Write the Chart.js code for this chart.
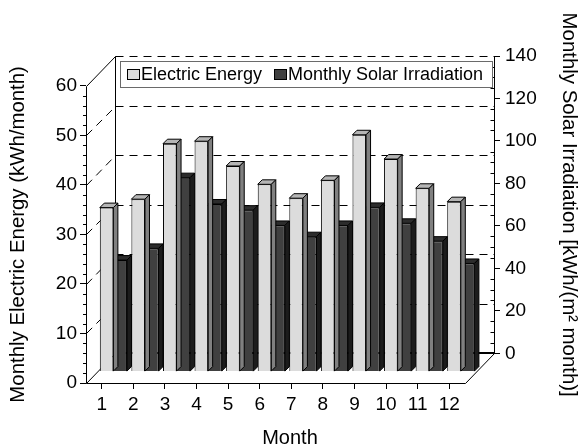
<!DOCTYPE html>
<html>
<head>
<meta charset="utf-8">
<script src="https://cdn.jsdelivr.net/npm/chart.js@4/dist/chart.umd.min.js"></script>
<style>
html,body{margin:0;padding:0;background:#fff;}
#wrap{width:578px;height:448px;}
</style>
</head>
<body>
<div id="wrap"><canvas id="c" width="578" height="448"></canvas></div>
<script>
// ---- data ----
const months = ['1','2','3','4','5','6','7','8','9','10','11','12'];
const monthNums = [1,2,3,4,5,6,7,8,9,10,11,12];
const electricEnergy = [33.0, 34.7, 45.9, 46.4, 41.4, 37.7, 34.9, 38.5, 47.7, 42.8, 36.9, 34.2];
const solarIrradiation = [52.3, 57.8, 91.1, 78.7, 75.8, 68.6, 63.3, 68.6, 77.1, 69.6, 61.2, 50.7];
const leftTicks = [0,10,20,30,40,50,60];
const rightTicks = [0,20,40,60,80,100,120,140];
const seriesNames = ['Electric Energy', 'Monthly Solar Irradiation'];

// ---- 3D box geometry (style) ----
const LEFT_MAX = leftTicks[leftTicks.length-1];
const RIGHT_MAX = rightTicks[rightTicks.length-1];
const R = RIGHT_MAX / LEFT_MAX;
const DEPTH_X = 0.918;   // box depth, in category units
const DEPTH_Y = 6;       // box depth, in left-axis units
const BAR_Z = 0.4;       // bar row position inside the box depth
const BAR_D = 4.5;       // bar 3D thickness in px
const FONT = '"Liberation Sans", Arial, Helvetica, sans-serif';

const colors = {
  eFront:'#dcdcdc', eTop:'#b5b5b5', eSide:'#808080',
  sFront:'#404040', sTop:'#2c2c2c', sSide:'#1c1c1c'
};

const setTicks = (vals) => (s) => { s.ticks = vals.map(v => ({value:v})); };

const box3d = {
  id:'box3d',
  beforeDatasetsDraw(chart){
    const ctx = chart.ctx;
    const sx = chart.scales.x, yl = chart.scales.yL, yr = chart.scales.yR;
    const X = v => sx.getPixelForValue(v);
    const Y = v => yl.getPixelForValue(v);
    const p = v => Math.round(v) + 0.5;
    const x0 = X(0.5), x1 = X(12.5), bx0 = X(0.5+DEPTH_X), bx1 = X(12.5+DEPTH_X);
    ctx.save();
    ctx.strokeStyle = '#000';
    ctx.lineWidth = 1;
    const line = (a,b,c,d,dash) => {
      ctx.setLineDash(dash ? [8,6] : []);
      ctx.beginPath(); ctx.moveTo(a,b); ctx.lineTo(c,d); ctx.stroke();
    };
    // back wall grid (dashed)
    leftTicks.forEach(v => {
      if (v === 0) return;
      const y = p(Y(v+DEPTH_Y));
      line(p(bx0), y, p(bx1), y, true);
    });
    // left wall diagonals
    leftTicks.forEach(v => {
      const solid = (v === 0 || v === LEFT_MAX);
      line(p(x0), p(Y(v)), p(bx0), p(Y(v+DEPTH_Y)), !solid);
    });
    // back-left vertical edge
    line(p(bx0), p(Y(DEPTH_Y)), p(bx0), p(Y(LEFT_MAX+DEPTH_Y)), false);
    // back floor edge
    ctx.lineWidth = 2;
    line(bx0, Math.round(Y(DEPTH_Y)), bx1, Math.round(Y(DEPTH_Y)), false);
    ctx.lineWidth = 1;
    // front floor edge and right floor diagonal
    line(p(x0), p(Y(0)), p(x1), p(Y(0)), false);
    line(p(x1), p(Y(0)), p(bx1), p(Y(DEPTH_Y)), false);
    // axis lines
    line(p(x0), p(Y(0)), p(x0), p(Y(LEFT_MAX)), false);
    line(p(bx1), p(yr.getPixelForValue(0)), p(bx1), p(yr.getPixelForValue(RIGHT_MAX)), false);
    // minor ticks left (outward)
    for (let v = 0; v <= LEFT_MAX; v += 2) {
      if (v % 10 === 0) continue;
      const y = p(Y(v));
      line(p(x0)-3.5, y, p(x0), y, false);
    }
    // minor ticks right (inward)
    for (let v = 0; v <= RIGHT_MAX; v += 5) {
      if (v % 20 === 0) continue;
      const y = p(yr.getPixelForValue(v));
      line(p(bx1)-4, y, p(bx1), y, false);
    }
    ctx.restore();
  },
  afterDatasetDraw(chart, args){
    const ctx = chart.ctx;
    const ds = chart.data.datasets[args.index];
    ctx.save();
    ctx.strokeStyle = '#000';
    ctx.lineWidth = 1;
    args.meta.data.forEach(el => {
      const {x, y, base, width} = el.getProps(['x','y','base','width'], true);
      const l = x - width/2, r = x + width/2, d = BAR_D;
      // top face
      ctx.fillStyle = ds.topColor;
      ctx.beginPath();
      ctx.moveTo(l, y); ctx.lineTo(l+d, y-d); ctx.lineTo(r+d, y-d); ctx.lineTo(r, y); ctx.closePath();
      ctx.fill(); ctx.stroke();
      // side face
      ctx.fillStyle = ds.sideColor;
      ctx.beginPath();
      ctx.moveTo(r, y); ctx.lineTo(r+d, y-d); ctx.lineTo(r+d, base-d); ctx.lineTo(r, base); ctx.closePath();
      ctx.fill(); ctx.stroke();
    });
    ctx.restore();
  },
  afterDraw(chart){
    const ctx = chart.ctx;
    const yl = chart.scales.yL, yr = chart.scales.yR;
    ctx.save();
    // axis titles (centred on their own axis)
    ctx.fillStyle = '#000';
    ctx.font = '20.4px ' + FONT;
    ctx.textAlign = 'center';
    ctx.textBaseline = 'middle';
    ctx.save();
    ctx.translate(18.5, (yl.getPixelForValue(0) + yl.getPixelForValue(LEFT_MAX))/2);
    ctx.rotate(-Math.PI/2);
    ctx.fillText('Monthly Electric Energy (kWh/month)', 0, 0);
    ctx.restore();
    ctx.save();
    ctx.translate(568.5, (yr.getPixelForValue(0) + yr.getPixelForValue(RIGHT_MAX))/2);
    ctx.rotate(Math.PI/2);
    ctx.fillText('Monthly Solar Irradiation [kWh/(m\u00B2 month)]', 0, 0);
    ctx.restore();
    // legend
    const ca = chart.chartArea;
    const lx = ca.left + 34, ly = ca.top + 5, lw = 372, lh = 26;
    ctx.fillStyle = '#fff';
    ctx.fillRect(lx, ly, lw, lh);
    ctx.strokeStyle = '#6a6a6a';
    ctx.lineWidth = 1;
    ctx.strokeRect(Math.round(lx)+0.5, Math.round(ly)+0.5, lw, lh);
    ctx.font = '18px ' + FONT;
    ctx.textAlign = 'left';
    ctx.textBaseline = 'middle';
    let cx = lx + 7;
    const cy = ly + lh/2;
    chart.data.datasets.forEach((ds, i) => {
      ctx.fillStyle = ds.backgroundColor;
      ctx.fillRect(Math.round(cx), Math.round(cy-5), 12, 10);
      ctx.strokeStyle = '#000';
      ctx.strokeRect(Math.round(cx)+0.5, Math.round(cy-5)+0.5, 12, 10);
      ctx.fillStyle = '#000';
      ctx.fillText(ds.label, cx + 14, cy + 1);
      cx += 14 + ctx.measureText(ds.label).width + 12;
    });
    ctx.restore();
  }
};

const tickFont = {family: FONT, size: 19};

new Chart(document.getElementById('c'), {
  type: 'bar',
  data: {
    datasets: [
      {
        label: seriesNames[0],
        data: monthNums.map((m,i) => ({x:m, y:electricEnergy[i]})),
        backgroundColor: colors.eFront, topColor: colors.eTop, sideColor: colors.eSide,
        borderColor:'#000', borderWidth:1,
        xAxisID:'xb', yAxisID:'yE',
        categoryPercentage: 0.86, barPercentage: 1.0
      },
      {
        label: seriesNames[1],
        data: monthNums.map((m,i) => ({x:m, y:solarIrradiation[i]})),
        backgroundColor: colors.sFront, topColor: colors.sTop, sideColor: colors.sSide,
        borderColor:'#000', borderWidth:1,
        xAxisID:'xb', yAxisID:'yS',
        categoryPercentage: 0.86, barPercentage: 1.0
      }
    ]
  },
  options: {
    responsive: false,
    animation: false,
    devicePixelRatio: 1,
    layout: {padding: {top: 56, left: 0, right: 0, bottom: 0}},
    plugins: {legend: {display: false}, tooltip: {enabled: false}},
    scales: {
      x: {
        type:'linear', position:'bottom', bounds:'data', offset:false,
        min: 0.5, max: 12.5 + DEPTH_X,
        afterBuildTicks: setTicks(monthNums),
        afterFit: s => { s.height = 65; },
        ticks: {autoSkip:false, maxRotation:0, color:'#000', font:tickFont, padding:4,
                callback: (v) => months[Math.round(v)-1]},
        grid: {offset:false, drawOnChartArea:false, drawTicks:true, tickLength:6, color:'#000'},
        border: {display:false},
        title: {display:true, text:'Month', color:'#000', font:{family:FONT, size:20, lineHeight:1}, padding:{top:0,bottom:0}}
      },
      xb: {
        type:'linear', display:false, bounds:'data', offset:false,
        min: 0.5 - BAR_Z*DEPTH_X, max: 12.5 + DEPTH_X - BAR_Z*DEPTH_X,
        afterBuildTicks: setTicks(monthNums),
        grid: {offset:false}
      },
      yL: {
        type:'linear', position:'left', bounds:'data',
        min: 0, max: LEFT_MAX + DEPTH_Y,
        afterBuildTicks: setTicks(leftTicks),
        afterFit: s => { s.width = 86; },
        ticks: {color:'#000', font:tickFont, padding:3},
        grid: {drawOnChartArea:false, drawTicks:true, tickLength:6, color:'#000'},
        border: {display:false}
      },
      yR: {
        type:'linear', position:'right', bounds:'data',
        min: -DEPTH_Y*R, max: RIGHT_MAX,
        afterBuildTicks: setTicks(rightTicks),
        afterFit: s => { s.width = 84; },
        ticks: {color:'#000', font:tickFont, padding:5},
        grid: {drawOnChartArea:false, drawTicks:true, tickLength:6, color:'#000'},
        border: {display:false}
      },
      yE: {
        type:'linear', display:false, bounds:'data',
        min: -BAR_Z*DEPTH_Y, max: LEFT_MAX + DEPTH_Y - BAR_Z*DEPTH_Y
      },
      yS: {
        type:'linear', display:false, bounds:'data',
        min: -BAR_Z*DEPTH_Y*R, max: (LEFT_MAX + DEPTH_Y - BAR_Z*DEPTH_Y)*R
      }
    }
  },
  plugins: [box3d]
});
</script>
</body>
</html>
